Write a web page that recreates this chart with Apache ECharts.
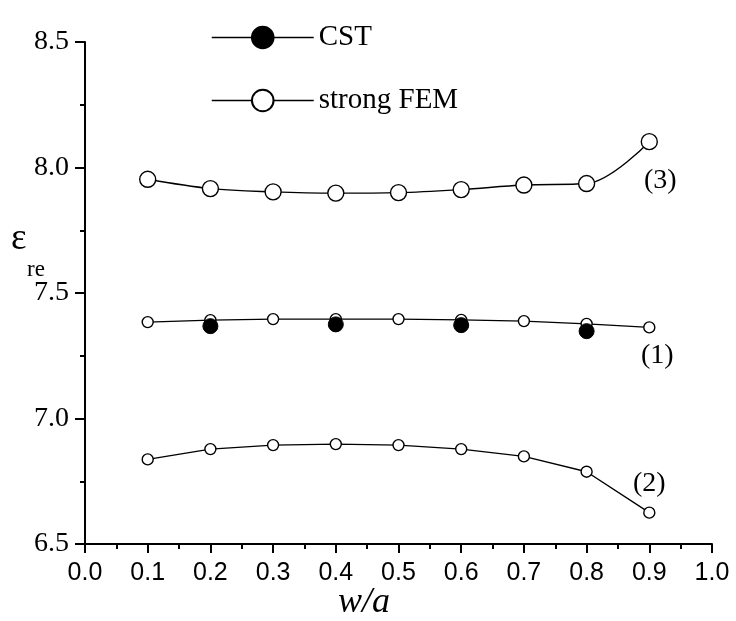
<!DOCTYPE html>
<html><head><meta charset="utf-8">
<script src="https://cdn.jsdelivr.net/npm/echarts@6/dist/echarts.min.js"></script>
<style>html,body{margin:0;padding:0;background:#fff}#c{width:736px;height:621px}</style>
</head><body><div id="c"></div>
<script>
// ---- data ----
const xValues = [0.1, 0.2, 0.3, 0.4, 0.5, 0.6, 0.7, 0.8, 0.9];
const fem3 = [7.953, 7.916, 7.903, 7.898, 7.900, 7.912, 7.930, 7.936, 8.103];
const fem1 = [7.384, 7.392, 7.396, 7.396, 7.396, 7.393, 7.388, 7.377, 7.363];
const fem2 = [6.837, 6.878, 6.894, 6.898, 6.894, 6.878, 6.849, 6.788, 6.625];
const cstX = [0.2, 0.4, 0.6, 0.8];
const cst1 = [7.368, 7.375, 7.372, 7.348];
const curveNames = ['(1)', '(2)', '(3)'];
const legendNames = ['CST', 'strong FEM'];
const xTickLabels = ['0.0','0.1','0.2','0.3','0.4','0.5','0.6','0.7','0.8','0.9','1.0'];
const yTickLabels = ['6.5','7.0','7.5','8.0','8.5'];

const SERIF = 'Liberation Serif';
function pts(xs, ys, lbl, off) {
  return xs.map((x, i) => {
    const item = { value: [x, ys[i]] };
    if (lbl && i === xs.length - 1) {
      item.label = { show: true, formatter: lbl, position: 'inside', offset: off,
        fontFamily: SERIF, fontSize: 28, color: '#000' };
    }
    return item;
  });
}
const lineStyle = { color: '#000', width: 1.4 };
const openItem = { color: '#fff', borderColor: '#000', borderWidth: 1.4 };

const chart = echarts.init(document.getElementById('c'), null, { renderer: 'canvas' });
chart.setOption({
  animation: false,
  backgroundColor: '#fff',
  grid: { left: 85, right: 24, top: 42, bottom: 77, containLabel: false, outerBoundsMode: 'none' },
  legend: {
    data: legendNames, orient: 'vertical', left: 206, top: 18,
    itemWidth: 102, itemHeight: 27, itemGap: 34,
    textStyle: { fontFamily: SERIF, fontSize: 29, color: '#000', lineHeight: 27 },
    lineStyle: { color: '#000', width: 1.5, opacity: 1 }
  },
  xAxis: {
    type: 'value', min: 0, max: 1, interval: 0.1,
    axisLine: { show: true, onZero: false, lineStyle: { color: '#000', width: 2 } },
    axisTick: { show: true, length: 9, lineStyle: { color: '#000', width: 2 } },
    minorTick: { show: true, splitNumber: 2, length: 5, lineStyle: { color: '#000', width: 2 } },
    splitLine: { show: false },
    axisLabel: { margin: 17, fontFamily: 'Liberation Sans', fontSize: 25, color: '#000',
      formatter: (v) => xTickLabels[Math.round(v * 10)] }
  },
  yAxis: {
    type: 'value', min: 6.5, max: 8.5, interval: 0.5,
    axisLine: { show: true, lineStyle: { color: '#000', width: 2 } },
    axisTick: { show: true, length: 10, lineStyle: { color: '#000', width: 2 } },
    minorTick: { show: true, splitNumber: 2, length: 5, lineStyle: { color: '#000', width: 2 } },
    splitLine: { show: false },
    axisLabel: { margin: 16, fontFamily: SERIF, fontSize: 28, color: '#000',
      formatter: (v) => yTickLabels[Math.round((v - 6.5) * 2)] }
  },
  graphic: [
    { type: 'text', left: 11, top: 221, style: { text: 'ε', font: '37px "Liberation Serif"', fill: '#000' } },
    { type: 'text', left: 27, top: 258, style: { text: 're', font: '23px "Liberation Serif"', fill: '#000' } },
    { type: 'text', left: 338, top: 585, style: { text: 'w/a', font: 'italic 36px "Liberation Serif"', fill: '#000' } }
  ],
  series: [
    { name: 'strong FEM', type: 'line', data: pts(xValues, fem3, curveNames[2], [11, 39]),
      smooth: 0.35, symbol: 'circle', symbolSize: 16, lineStyle, itemStyle: openItem, z: 2 },
    { name: 'strong FEM', type: 'line', data: pts(xValues, fem1, curveNames[0], [8, 28]),
      symbol: 'circle', symbolSize: 11, lineStyle, itemStyle: openItem, z: 2 },
    { name: 'strong FEM', type: 'line', data: pts(xValues, fem2, curveNames[1], [0, -29]),
      symbol: 'circle', symbolSize: 11, lineStyle, itemStyle: openItem, z: 2 },
    { name: 'CST', type: 'line', data: pts(cstX, cst1),
      symbol: 'circle', symbolSize: 15, lineStyle: { color: '#000', width: 0, opacity: 0 },
      itemStyle: { color: '#000', borderColor: '#000', borderWidth: 1 }, z: 4 }
  ]
});
</script></body></html>
